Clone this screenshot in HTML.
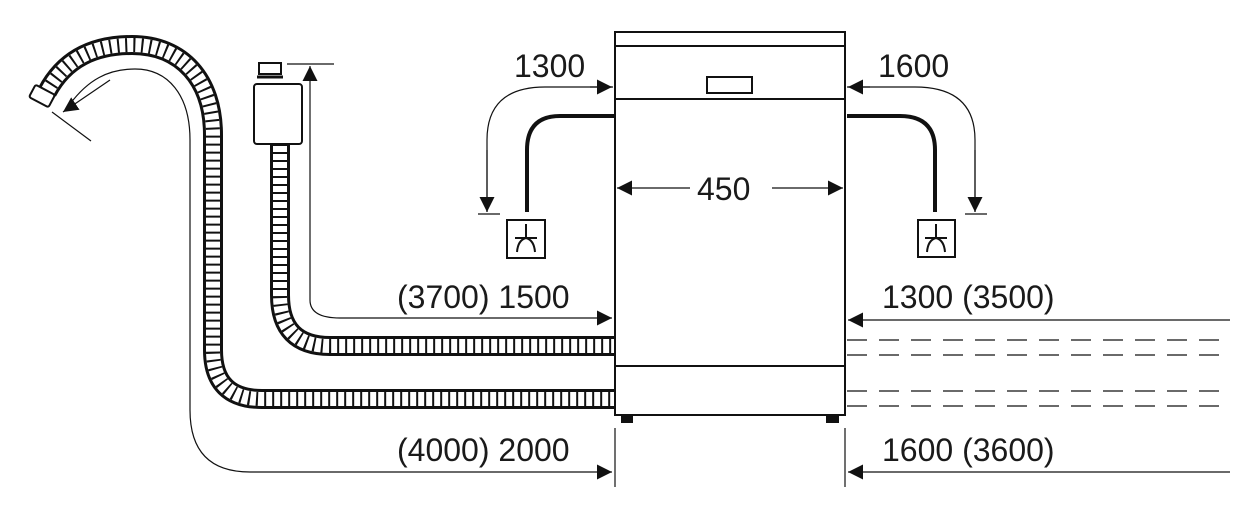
<!DOCTYPE html>
<html><head><meta charset="utf-8"><style>
html,body{margin:0;padding:0;background:#fff;}
svg{display:block;}
text{font-family:"Liberation Sans",sans-serif;font-size:32px;fill:#1a1a1a;}
</style></head><body>
<svg width="1258" height="517" viewBox="0 0 1258 517" xmlns="http://www.w3.org/2000/svg">
<defs>
<marker id="ah" viewBox="0 0 10 10" refX="10" refY="5" markerWidth="15" markerHeight="15" markerUnits="userSpaceOnUse" orient="auto"><path d="M0,0 L10,5 L0,10 z" fill="#111"/></marker>
</defs>
<g fill="none" stroke="#111">
<!-- big hose -->
<path d="M47,92 C65,58 95,45 132,45 C182,45 213,80 213,135 L213,350 Q213,399 262,399 L615,399" stroke-width="20"/>
<path d="M47,92 C65,58 95,45 132,45 C182,45 213,80 213,135 L213,350 Q213,399 262,399 L615,399" stroke-width="14" stroke="#fff"/>
<path d="M47,92 C65,58 95,45 132,45 C182,45 213,80 213,135 L213,350 Q213,399 262,399 L615,399" stroke-width="14" stroke-dasharray="2 6"/>
<!-- nozzle -->
<rect x="-11" y="-7" width="22" height="14" rx="2" transform="translate(42,96) rotate(28)" fill="#fff" stroke-width="2"/>
<!-- inlet hose -->
<path d="M280,144 L280,295 Q280,346 330,346 L615,346" stroke-width="20"/>
<path d="M280,144 L280,295 Q280,346 330,346 L615,346" stroke-width="14" stroke="#fff"/>
<path d="M280,144 L280,295 Q280,346 330,346 L615,346" stroke-width="14" stroke-dasharray="2 6"/>
<!-- valve -->
<rect x="259" y="63" width="22" height="11" stroke-width="2" fill="#fff"/>
<line x1="257" y1="77" x2="283" y2="77" stroke-width="3"/>
<rect x="254" y="84" width="48" height="60" rx="3" stroke-width="2" fill="#fff"/>
<!-- thin dims left -->
<path d="M70,104 C88,80 108,69 135,69 C168,69 190,95 190,140 L190,410 Q190,472 250,472 L612,472" stroke-width="1.2" marker-end="url(#ah)"/>
<path d="M110,80 L63,112" stroke-width="1.2" marker-end="url(#ah)"/>
<line x1="52" y1="112" x2="91" y2="141" stroke-width="1.2"/>
<path d="M310,300 Q310,318 340,318 L612,318" stroke-width="1.2" marker-end="url(#ah)"/>
<path d="M310,300 L310,66" stroke-width="1.2" marker-end="url(#ah)"/>
<line x1="287" y1="64" x2="334" y2="64" stroke-width="1.2"/>
<!-- dishwasher -->
<rect x="615" y="32" width="230" height="383" stroke-width="2"/>
<line x1="615" y1="46" x2="845" y2="46" stroke-width="2"/>
<line x1="615" y1="99" x2="845" y2="99" stroke-width="2"/>
<line x1="615" y1="366" x2="845" y2="366" stroke-width="2"/>
<rect x="707" y="77" width="45" height="16" stroke-width="2"/>
<rect x="621" y="415" width="12" height="8" fill="#111" stroke="none"/>
<rect x="826" y="415" width="13" height="8" fill="#111" stroke="none"/>
<line x1="615" y1="428" x2="615" y2="487" stroke-width="1.2"/>
<line x1="845" y1="428" x2="845" y2="487" stroke-width="1.2"/>
<!-- 450 -->
<path d="M690,188 L617,188" stroke-width="1.2" marker-end="url(#ah)"/>
<path d="M772,188 L843,188" stroke-width="1.2" marker-end="url(#ah)"/>
<!-- left drain -->
<path d="M615,116 L560,116 Q527,116 527,150 L527,212" stroke-width="4"/>
<path d="M613,87 L545,87 Q487,87 487,140 L487,212" stroke-width="1.2"/>
<path d="M487,150 L487,212" stroke-width="1.2" marker-end="url(#ah)"/>
<path d="M590,87 L612,87" stroke-width="1.2" marker-end="url(#ah)"/>
<line x1="478" y1="214" x2="500" y2="214" stroke-width="1.2"/>
<rect x="507" y="220" width="38" height="38" stroke-width="2"/>
<path d="M526,224 L526,238 M515,238 L537,238 M517,252 Q518,240 526,238 Q534,240 535,252" stroke-width="2"/>
<!-- right drain -->
<path d="M847,116 L900,116 Q935,116 935,150 L935,212" stroke-width="4"/>
<path d="M847,87 L915,87 Q975,87 975,140 L975,212" stroke-width="1.2"/>
<path d="M975,150 L975,212" stroke-width="1.2" marker-end="url(#ah)"/>
<path d="M870,87 L848,87" stroke-width="1.2" marker-end="url(#ah)"/>
<line x1="965" y1="214" x2="987" y2="214" stroke-width="1.2"/>
<rect x="918" y="220" width="37" height="37" stroke-width="2"/>
<path d="M936,224 L936,238 M925,238 L947,238 M927,252 Q928,240 936,238 Q944,240 945,252" stroke-width="2"/>
<!-- right dims -->
<path d="M1230,320 L848,320" stroke-width="1.2" marker-end="url(#ah)"/>
<path d="M1230,472 L848,472" stroke-width="1.2" marker-end="url(#ah)"/>
<g stroke-width="1.2" stroke-dasharray="20 12">
<line x1="847" y1="340" x2="1230" y2="340"/>
<line x1="847" y1="355" x2="1230" y2="355"/>
<line x1="847" y1="391" x2="1230" y2="391"/>
<line x1="847" y1="406" x2="1230" y2="406"/>
</g>
</g>
<text x="514" y="77">1300</text>
<text x="878" y="77">1600</text>
<text x="697" y="200">450</text>
<text x="397" y="308">(3700) 1500</text>
<text x="882" y="308">1300 (3500)</text>
<text x="397" y="461">(4000) 2000</text>
<text x="882" y="461">1600 (3600)</text>
</svg>
</body></html>
